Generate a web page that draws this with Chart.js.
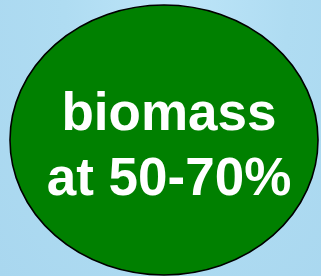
<!DOCTYPE html>
<html>
<head>
<meta charset="utf-8">
<script src="https://cdn.jsdelivr.net/npm/chart.js@4.4.1/dist/chart.umd.min.js"></script>
<style>
    html, body { margin: 0; padding: 0; }
    body {
        width: 321px;
        height: 276px;
        overflow: hidden;
        background: radial-gradient(ellipse at 55% 0%, #bde5f8 0%, #afdcf2 45%, #a9d7ef 100%);
    }
    #wrap { position: relative; width: 321px; height: 276px; }
</style>
</head>
<body>
<div id="wrap"><canvas id="chart"></canvas></div>
<script>
// 데이터
const labels = ['biomass at 50-70%'];
const labelLines = ['biomass', 'at 50-70%'];
const values = [100];

// 원을 타원으로 늘리고 테두리, 글자 그리기
const ellipsePlugin = {
    id: 'ellipse',
    beforeDatasetsDraw(chart) {
        const arc = chart.getDatasetMeta(0).data[0];
        const ctx = chart.ctx;
        const sx = chart.chartArea.width / chart.chartArea.height;
        ctx.save();
        ctx.translate(arc.x, arc.y);
        ctx.scale(sx, 1);
        ctx.translate(-arc.x, -arc.y);
    },
    afterDatasetsDraw(chart) {
        const ctx = chart.ctx;
        ctx.restore();
        const arc = chart.getDatasetMeta(0).data[0];
        const sx = chart.chartArea.width / chart.chartArea.height;

        // 테두리
        ctx.save();
        ctx.beginPath();
        ctx.ellipse(arc.x, arc.y, arc.outerRadius * sx, arc.outerRadius, 0, 0, Math.PI * 2);
        ctx.lineWidth = 1.6;
        ctx.strokeStyle = '#000000';
        ctx.stroke();

        // 글자
        ctx.fillStyle = '#ffffff';
        ctx.font = 'bold 53px "Liberation Sans", Arial, sans-serif';
        ctx.textAlign = 'center';
        ctx.textBaseline = 'alphabetic';
        ctx.fillText(labelLines[0], arc.x + 5, arc.y - 10);
        ctx.fillText(labelLines[1], arc.x + 5, arc.y + 55);
        ctx.restore();
    }
};

new Chart(document.getElementById('chart'), {
    type: 'pie',
    data: {
        labels: labels,
        datasets: [{
            data: values,
            backgroundColor: '#008000',
            borderWidth: 0
        }]
    },
    options: {
        responsive: true,
        maintainAspectRatio: false,
        animation: false,
        events: [],
        layout: {
            padding: { left: 10, right: 3, top: 5, bottom: 1 }
        },
        plugins: {
            legend: { display: false },
            tooltip: { enabled: false }
        }
    },
    plugins: [ellipsePlugin]
});
</script>
</body>
</html>
